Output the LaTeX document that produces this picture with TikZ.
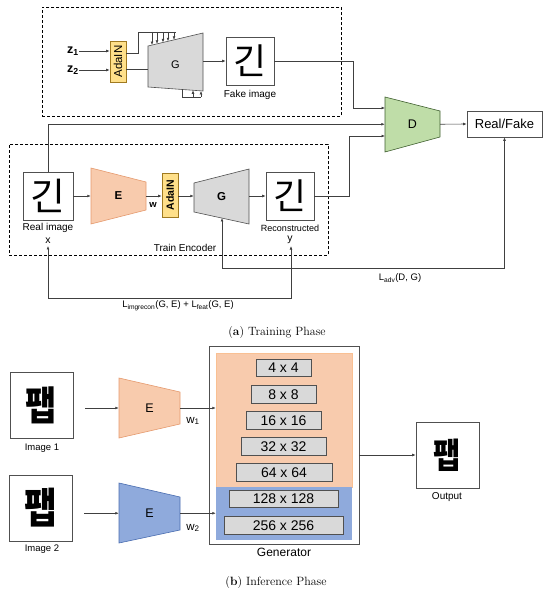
\documentclass[tikz,border=0pt]{standalone}
\usepackage{fontspec}
\setsansfont{Liberation Sans}
\newfontfamily\kr{Noto Sans CJK KR}
\usetikzlibrary{arrows.meta,calc}
\definecolor{ln}{HTML}{404040}
\definecolor{orf}{HTML}{F8CBAD}
\definecolor{ord}{HTML}{E59A6E}
\definecolor{blf}{HTML}{8FAADC}
\definecolor{bld}{HTML}{4A6DB0}
\definecolor{gyf}{HTML}{D9D9D9}
\definecolor{gyd}{HTML}{505050}
\definecolor{grf}{HTML}{BFDDA8}
\definecolor{grd}{HTML}{3F5F2F}
\definecolor{yef}{HTML}{FFE08A}
\definecolor{yed}{HTML}{A07A20}
% trapezoid: name, xl, xr, left top y, left bottom y, right top y, right bottom y, style, text
\newcommand\trapq[9]{%
  \draw[#8] (#2,#4) -- (#3,#6) -- (#3,#7) -- (#2,#5) -- cycle;
  \node[inner sep=0pt, minimum width={(#3-#2)*1pt}, minimum height={(#5-#4)*1pt}]
    (#1) at ({(#2+#3)/2},{(#4+#5+#6+#7)/4}) {#9};}
\tikzset{
  arr/.style={draw=ln, line width=0.6pt, -{Latex[length=3.5pt,width=2.8pt]}},
  darr/.style={draw=ln, line width=0.6pt, {Latex[length=3.5pt,width=2.8pt]}-{Latex[length=3.5pt,width=2.8pt]}},
  wire/.style={draw=ln, line width=0.6pt},
  dbox/.style={draw=black, densely dashed, line width=0.8pt, inner sep=0pt, anchor=north west},
  imgbox/.style={draw=gyd, line width=0.6pt, fill=white, inner sep=0pt},
  adain/.style={draw=yed, fill=yef, inner sep=0pt, line width=0.6pt},
  gsty/.style={draw=gyd, fill=gyf, line width=0.6pt},
  esty/.style={draw=ord, fill=orf, line width=0.6pt},
  bsty/.style={draw=bld, fill=blf, line width=0.6pt},
  dsty/.style={draw=grd, fill=grf, line width=0.6pt},
  layer/.style={draw=gyd, fill=gyf, inner sep=0pt, line width=0.7pt, minimum height=17.5pt, font=\sffamily\fontsize{14}{14}\selectfont},
  lab/.style={inner sep=0pt, font=\sffamily\fontsize{#1}{#1}\selectfont},
  hangul/.style={inner sep=0pt, font=\kr\fontsize{#1}{#1}\selectfont},
  hangulb/.style={inner sep=0pt, xscale=0.85, font=\kr\bfseries\fontsize{#1}{#1}\selectfont},
}
\begin{document}
\begin{tikzpicture}[x=1pt,y=-1pt,font=\sffamily]
\useasboundingbox (0,0) rectangle (550,593);

% ---------------- (a) Training phase ----------------
\node[dbox, minimum width=299pt, minimum height=109pt] (topbox) at (42,7) {};
\node[dbox, minimum width=319pt, minimum height=111pt] (encbox) at (9,144) {};

% top generator branch
\node[inner sep=0pt, font=\sffamily\bfseries\fontsize{12.5}{12.5}\selectfont] (z1) at (73,51) {z\textsubscript{1}};
\node[inner sep=0pt, font=\sffamily\bfseries\fontsize{12.5}{12.5}\selectfont] (z2) at (73,70) {z\textsubscript{2}};
\node[adain, minimum width=16pt, minimum height=41pt] (ad1) at (118,61.5) {};
\node[lab=11.5, rotate=90] (ad1t) at (ad1) {AdaIN};
\draw[arr] (z1.east) -- (z1.east -| ad1.west);
\draw[arr] (z2.east) -- (z2.east -| ad1.west);
\trapq{G1}{148}{203}{46}{87}{33}{91}{gsty}{\fontsize{11}{11}\selectfont G}
\draw[wire] ($(ad1.east)+(0,-8.5)$) -- ++(12,0) -- ++(0,-21) -- (176,32);
\foreach \xx in {152,157,163,168,174} \draw[arr] (\xx,32) -- (\xx,{46-13*(\xx-148)/55});
\draw[wire] ($(ad1.east)+(0,7.5)$) -- (148,69);
\draw[wire] (182,{87+4*34/55}) -- (182,97) -- (201,97);
\draw[arr] (193,97) -- (193,{87+4*45/55});
\draw[arr] (201,97) -- (201,{87+4*53/55});
\node[imgbox, minimum width=48pt, minimum height=48pt] (fake) at (250,61) {};
\node[hangul=36] (fakec) at (fake) {긴};
\node[lab=10] (fakel) at (250,95) {Fake image};
\draw[arr] (G1.east |- fake.west) -- (fake.west);

% discriminator
\trapq{D}{385}{440}{97}{152}{111}{137}{dsty}{\fontsize{12.5}{12.5}\selectfont D}
\node[imgbox, minimum width=75pt, minimum height=26pt, font=\sffamily\fontsize{13}{13}\selectfont] (rf) at (504.5,124) {Real/Fake};
\draw[arr] (D.east) -- (rf.west);
\coordinate (din1) at (385,108);
\coordinate (din3) at (385,136);
\draw[arr] (fake.east) -- (353,61) -- (353,108) -- (din1);

% encoder branch
\node[imgbox, minimum width=50pt, minimum height=48pt] (real) at (48,196) {};
\node[hangul=38] (realc) at (real) {긴};
\node[lab=10] (reall) at (48,228) {Real image};
\node[lab=10.5] (xlab) at (48,241) {x};
\draw[arr] (real.north) |- (D.west);
\trapq{E1}{91}{146}{168}{224}{182}{210}{esty}{\bfseries\fontsize{11.5}{11.5}\selectfont E}
\draw[arr] (real.east) -- (E1.west);
\node[adain, minimum width=16pt, minimum height=44pt] (ad2) at (170,195) {};
\node[rotate=90, inner sep=0pt, font=\sffamily\bfseries\fontsize{10.5}{10.5}\selectfont] (ad2t) at (ad2) {AdaIN};
\draw[arr] (E1.east) -- (E1.east -| ad2.west);
\node[inner sep=0pt, font=\sffamily\bfseries\fontsize{9.5}{9.5}\selectfont] (wlab) at (153,205) {w};
\trapq{G2}{194}{249}{183}{212}{169}{224}{gsty}{\bfseries\fontsize{11.5}{11.5}\selectfont G}
\draw[arr] (ad2.east |- E1.east) -- (G2.west |- E1.east);
\node[imgbox, minimum width=48pt, minimum height=48pt] (recon) at (290,196) {};
\node[hangul=36] (reconc) at (recon) {긴};
\node[lab=9] (reconl) at (290,228) {Reconstructed};
\node[lab=10.5] (ylab) at (290,240) {y};
\draw[arr] (G2.east |- recon.west) -- (recon.west);
\draw[arr] (recon.east) -- (349,196) -- (349,136) -- (din3);
\node[lab=10] (trenc) at (185,248) {Train Encoder};

% losses
\coordinate (gb) at (222,218);
\draw[darr] (gb) -- (222,268) -| (rf.south);
\node[lab=9.5] (ladv) at (400,278) {L\textsubscript{adv}(D, G)};
\draw[darr] ($(xlab.south)+(0,2)$) -- (48,298) -| ($(ylab.south)+(1,2)$);
\node[lab=9.5] (lrec) at (178,306) {L\textsubscript{imgrecon}(G, E) + L\textsubscript{feat}(G, E)};

\node[inner sep=0pt, font=\rmfamily\fontsize{12}{12}\selectfont] (capa) at (277,333) {(\textbf{a}) Training Phase};

% ---------------- (b) Inference phase ----------------
\node[imgbox, minimum width=63pt, minimum height=66pt] (img1) at (41.5,405) {};
\node[hangulb=40] (img1c) at (img1) {팹};
\node[lab=9.5] (img1l) at (42,448) {Image 1};
\node[imgbox, minimum width=63pt, minimum height=66pt] (img2) at (40.5,508) {};
\node[hangulb=42] (img2c) at (img2) {팹};
\node[lab=9.5] (img2l) at (42,549) {Image 2};

\trapq{Ei1}{119}{180}{378}{438}{392}{424}{esty}{\fontsize{12.5}{12.5}\selectfont E}
\trapq{Ei2}{119}{180}{483}{543}{497}{530}{bsty}{\fontsize{12.5}{12.5}\selectfont E}
\draw[arr] ($(img1.east |- Ei1.west)+(12,0)$) -- (Ei1.west);
\draw[arr] ($(img2.east |- Ei2.west)+(12,0)$) -- (Ei2.west);

\node[draw=gyd, line width=0.7pt, fill=white, inner sep=0pt, minimum width=150pt, minimum height=198pt] (gen) at (284,445) {};
\node[fill=orf, draw=orf!85!orange, inner sep=0pt, minimum width=136pt, minimum height=134pt] (genA) at (284,420) {};
\node[fill=blf, inner sep=0pt, minimum width=136pt, minimum height=53pt] (genB) at (284,513.5) {};
\node[lab=12] (genl) at (284,552) {Generator};
\draw[arr] (Ei1.east) -- (Ei1.east -| genA.west);
\draw[arr] (Ei2.east) -- (Ei2.east -| genB.west);
\node[lab=11.5] (w1) at (193,421) {w\textsubscript{1}};
\node[lab=11.5] (w2) at (193,528) {w\textsubscript{2}};

\node[layer, minimum width=55pt] (l4) at (283.5,368) {4 x 4};
\node[layer, minimum width=65pt] (l8) at (283.5,394.5) {8 x 8};
\node[layer, minimum width=75pt] (l16) at (283.5,420.5) {16 x 16};
\node[layer, minimum width=85pt] (l32) at (283.5,446.5) {32 x 32};
\node[layer, minimum width=96pt] (l64) at (284,472.5) {64 x 64};
\node[layer, minimum width=109pt] (l128) at (283.5,499) {128 x 128};
\node[layer, minimum width=119pt] (l256) at (283.5,525.5) {256 x 256};

\node[imgbox, minimum width=63pt, minimum height=66pt] (out) at (447.5,455) {};
\node[hangulb=35] (outc) at (out) {팹};
\node[lab=10] (outl) at (447,497) {Output};
\draw[arr] (gen.east |- out.west) -- (out.west);

\node[inner sep=0pt, font=\rmfamily\fontsize{12}{12}\selectfont] (capb) at (276,582) {(\textbf{b}) Inference Phase};
\end{tikzpicture}
\end{document}
